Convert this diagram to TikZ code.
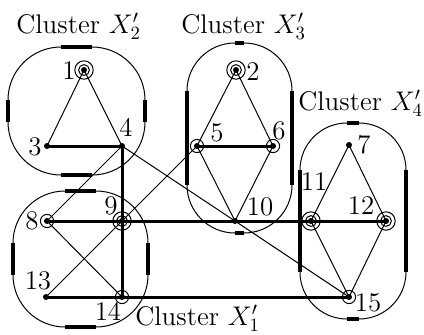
\documentclass[tikz,border=0pt]{standalone}
\begin{document}
\begin{tikzpicture}[x=0.5pt,y=-0.5pt,
  vtx/.style={circle,fill=black,inner sep=0pt,minimum size=3pt},
  lbl/.style={inner sep=0pt,font=\fontsize{14.4}{17}\selectfont,scale=0.935,transform shape},
  thinedge/.style={line width=0.5pt},
  thickedge/.style={line width=1.5pt},
  ring/.style={line width=0.5pt},
  hull/.style={line width=0.5pt},
  flat/.style={line width=1.6pt}]
\useasboundingbox (0,0) rectangle (424,334);

% cluster hulls
\draw[hull,rounded corners=26.5pt] (8,47) rectangle (145,175);
\draw[flat] (61,47)--(92,47) (61,175)--(92,175) (8,100)--(8,122) (145,100)--(145,122);
\draw[hull,rounded corners=24pt] (187,43) rectangle (292,233);
\draw[flat] (235,43)--(244,43) (235,233)--(244,233) (187,91)--(187,185) (292,91)--(292,185);
\draw[hull,rounded corners=26pt] (13,191) rectangle (148,327);
\draw[flat] (65,191)--(96,191) (65,327)--(96,327) (13,243)--(13,275) (148,243)--(148,275);
\draw[hull,rounded corners=23.5pt] (300,123) rectangle (406,319);
\draw[flat] (347,123)--(359,123) (347,319)--(359,319) (300,170)--(300,272) (406,170)--(406,272);

% vertices
\node[vtx] (v1) at (84,70) {};
\node[vtx] (v2) at (236,70) {};
\node[vtx] (v3) at (47,146) {};
\node[vtx] (v4) at (122,146) {};
\node[vtx] (v5) at (197,146) {};
\node[vtx] (v6) at (273,146) {};
\node[vtx] (v7) at (349,145) {};
\node[vtx] (v8) at (47,221) {};
\node[vtx] (v9) at (122,221) {};
\node[vtx] (v10) at (235,221) {};
\node[vtx] (v11) at (311,221) {};
\node[vtx] (v12) at (386,221) {};
\node[vtx] (v13) at (46,297) {};
\node[vtx] (v14) at (122,297) {};
\node[vtx] (v15) at (349,297) {};

% rings
\foreach \n in {5,6,8,14,15} \draw[ring] (v\n.center) circle[radius=3.3pt];
\foreach \n in {1,2,9,11,12} {
  \draw[ring] (v\n.center) circle[radius=2.7pt];
  \draw[ring] (v\n.center) circle[radius=4.6pt];
}

% edges
\draw[thinedge] (v1.center)--(v3.center);
\draw[thinedge] (v1.center)--(v4.center);
\draw[thickedge] (v3.center)--(v4.center);
\draw[thinedge] (v2.center)--(v5.center);
\draw[thinedge] (v2.center)--(v6.center);
\draw[thickedge] (v5.center)--(v6.center);
\draw[thinedge] (v5.center)--(v10.center);
\draw[thinedge] (v6.center)--(v10.center);
\draw[thinedge] (v7.center)--(v11.center);
\draw[thinedge] (v7.center)--(v12.center);
\draw[thickedge] (v11.center)--(v12.center);
\draw[thinedge] (v11.center)--(v15.center);
\draw[thinedge] (v12.center)--(v15.center);
\draw[thickedge] (v8.center)--(v9.center);
\draw[thickedge] (v9.center)--(v10.center);
\draw[thickedge] (v10.center)--(v11.center);
\draw[thinedge] (v8.center)--(v14.center);
\draw[thinedge] (v13.center)--(v9.center);
\draw[thickedge] (v13.center)--(v14.center);
\draw[thickedge] (v14.center)--(v15.center);
\draw[thickedge] (v4.center)--(v9.center);
\draw[thickedge] (v9.center)--(v14.center);
\draw[thinedge] (v4.center)--(v8.center);
\draw[thinedge] (v4.center)--(v10.center);
\draw[thinedge] (v10.center)--(v15.center);
\draw[thinedge] (v5.center)--(v9.center);

% vertex labels
\node[lbl] (l1) at (69,71) {1};
\node[lbl] (l2) at (253,72) {2};
\node[lbl] (l3) at (35,147) {3};
\node[lbl] (l4) at (126,127) {4};
\node[lbl] (l5) at (217,133) {5};
\node[lbl] (l6) at (279,131) {6};
\node[lbl] (l7) at (364,145) {7};
\node[lbl] (l8) at (32,221) {8};
\node[lbl] (l9) at (111,206) {9};
\node[lbl] (l10) at (260,207) {10};
\node[lbl] (l11) at (314,182) {11};
\node[lbl] (l12) at (361,206) {12};
\node[lbl] (l13) at (38,281) {13};
\node[lbl] (l14) at (108,311) {14};
\node[lbl] (l15) at (368,303) {15};

% cluster labels
\node[lbl,anchor=base west] (c2) at (16,33) {Cluster $X_2'$};
\node[lbl,anchor=base west] (c3) at (181,33) {Cluster $X_3'$};
\node[lbl,anchor=base west] (c4) at (298,110) {Cluster $X_4'$};
\node[lbl,anchor=base west] (c1) at (135,325) {Cluster $X_1'$};
\end{tikzpicture}
\end{document}
